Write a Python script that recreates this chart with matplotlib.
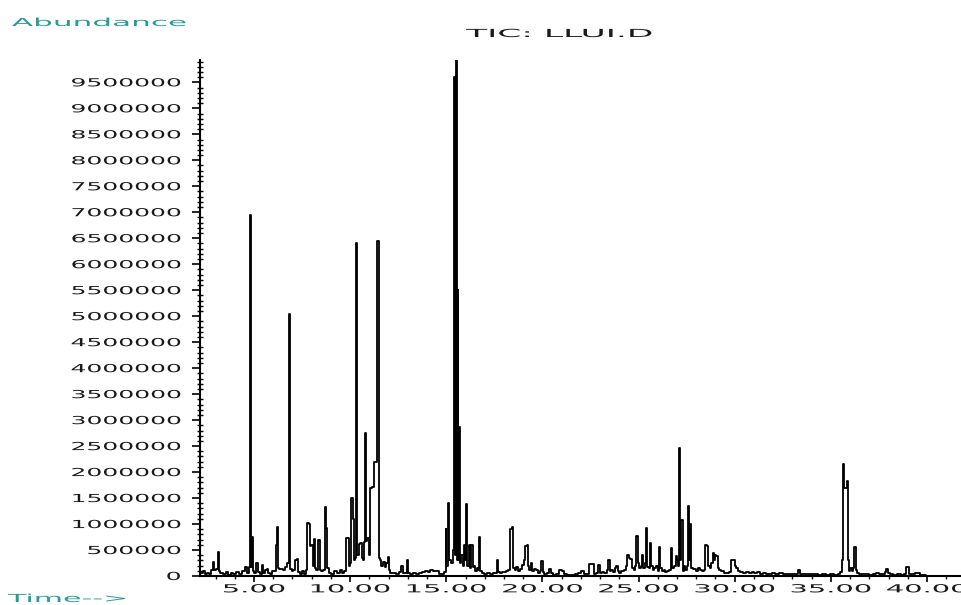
import matplotlib

matplotlib.use("Agg")
import matplotlib.pyplot as plt
from matplotlib import patheffects
from matplotlib.ticker import FuncFormatter
from matplotlib.transforms import Affine2D

# TIC trace of LLUI.D: retention time (min) and abundance, in three windows
rt_early = [2.19, 2.30, 2.40, 2.48, 2.60, 2.72, 2.82, 2.87, 2.92, 3.08,
            3.13, 3.18, 3.30, 3.45, 3.60, 3.72, 3.85, 4.00, 4.15, 4.30,
            4.45, 4.60, 4.70, 4.76, 4.80, 4.86, 4.90, 4.95, 5.05, 5.15,
            5.22, 5.35, 5.45, 5.52, 5.60, 5.70, 5.80, 5.90, 6.00, 6.12,
            6.17, 6.22, 6.27, 6.35, 6.45, 6.55, 6.65, 6.80, 6.86, 6.92,
            7.00, 7.10, 7.18, 7.25, 7.32, 7.45, 7.55, 7.65, 7.76, 7.80,
            7.90, 7.95, 8.02, 8.08, 8.14, 8.20, 8.28, 8.40, 8.46, 8.55,
            8.66, 8.72, 8.78, 8.84, 8.95, 9.10, 9.25, 9.40, 9.55, 9.65,
            9.76, 9.80, 9.90, 9.96, 10.04, 10.09, 10.16, 10.22, 10.30, 10.35,
            10.41, 10.48, 10.56, 10.62, 10.68, 10.74, 10.80, 10.85, 10.92, 11.00,
            11.08, 11.20, 11.24, 11.38, 11.45, 11.52, 11.58, 11.65, 11.75, 11.85,
            11.92, 11.98]
tic_early = [60000, 50000, 90000, 40000, 50000, 30000, 110000, 270000, 120000, 140000,
             470000, 100000, 60000, 30000, 70000, 20000, 60000, 30000, 80000, 40000,
             90000, 170000, 60000, 180000, 6950000, 180000, 750000, 100000, 60000, 250000,
             70000, 40000, 220000, 60000, 110000, 130000, 60000, 40000, 90000, 100000,
             600000, 950000, 150000, 130000, 140000, 120000, 180000, 250000, 5050000, 140000,
             90000, 120000, 300000, 330000, 80000, 40000, 100000, 40000, 120000, 1020000,
             1010000, 580000, 600000, 200000, 720000, 150000, 110000, 700000, 120000, 100000,
             110000, 1320000, 920000, 150000, 60000, 40000, 100000, 50000, 110000, 60000,
             90000, 740000, 730000, 200000, 250000, 1500000, 1100000, 300000, 350000, 6400000,
             400000, 620000, 630000, 350000, 300000, 650000, 2750000, 680000, 730000, 400000,
             1700000, 1720000, 2200000, 2200000, 6450000, 350000, 300000, 200000, 260000, 180000,
             250000, 360000]

rt_mid = [12.04, 12.15, 12.30, 12.45, 12.60, 12.70, 12.76, 12.90, 12.98, 13.04,
          13.20, 13.35, 13.50, 13.65, 13.80, 13.95, 14.10, 14.25, 14.40, 14.55,
          14.70, 14.85, 14.94, 14.98, 15.04, 15.09, 15.16, 15.30, 15.36, 15.42,
          15.47, 15.52, 15.57, 15.60, 15.65, 15.70, 15.76, 15.82, 15.88, 15.94,
          16.00, 16.06, 16.12, 16.20, 16.26, 16.33, 16.40, 16.48, 16.55, 16.62,
          16.70, 16.75, 16.80, 16.90, 17.05, 17.20, 17.35, 17.50, 17.62, 17.68,
          17.74, 17.85, 17.95, 18.05, 18.15, 18.30, 18.36, 18.46, 18.52, 18.60,
          18.70, 18.78, 18.90, 19.00, 19.08, 19.14, 19.22, 19.28, 19.36, 19.44,
          19.50, 19.60, 19.70, 19.80, 19.92, 19.98, 20.04, 20.15, 20.30, 20.42,
          20.50, 20.62, 20.80, 20.95, 21.05, 21.20, 21.40, 21.60, 21.80, 21.95,
          22.10, 22.22, 22.40, 22.48, 22.62, 22.70, 22.85, 22.98, 23.05, 23.15,
          23.30, 23.40, 23.46, 23.52, 23.60, 23.70, 23.80, 23.88, 23.96]
tic_mid = [120000, 60000, 50000, 40000, 70000, 200000, 50000, 60000, 300000, 60000,
           40000, 50000, 30000, 60000, 70000, 100000, 80000, 110000, 100000, 90000,
           40000, 30000, 80000, 900000, 200000, 1400000, 300000, 250000, 500000, 9600000,
           400000, 9940000, 300000, 5500000, 300000, 2870000, 250000, 400000, 200000, 600000,
           300000, 1380000, 200000, 600000, 150000, 600000, 180000, 200000, 100000, 160000,
           120000, 760000, 100000, 60000, 40000, 50000, 30000, 50000, 60000, 300000,
           80000, 60000, 80000, 70000, 100000, 120000, 900000, 950000, 150000, 120000,
           180000, 100000, 130000, 220000, 300000, 570000, 600000, 200000, 120000, 250000,
           100000, 130000, 110000, 60000, 90000, 280000, 80000, 40000, 60000, 130000,
           50000, 20000, 30000, 120000, 100000, 40000, 20000, 20000, 30000, 60000,
           90000, 40000, 40000, 230000, 230000, 40000, 60000, 210000, 50000, 80000,
           60000, 120000, 300000, 100000, 120000, 80000, 150000, 200000, 90000]

rt_late = [24.05, 24.15, 24.30, 24.38, 24.45, 24.52, 24.62, 24.70, 24.78, 24.86,
           24.92, 24.98, 25.05, 25.16, 25.22, 25.28, 25.35, 25.42, 25.48, 25.56,
           25.64, 25.70, 25.78, 25.86, 25.95, 26.02, 26.10, 26.16, 26.25, 26.35,
           26.45, 26.55, 26.65, 26.72, 26.78, 26.90, 26.96, 27.02, 27.08, 27.14,
           27.20, 27.26, 27.32, 27.40, 27.48, 27.55, 27.61, 27.67, 27.72, 27.78,
           27.86, 27.95, 28.05, 28.15, 28.25, 28.35, 28.45, 28.50, 28.60, 28.66,
           28.74, 28.82, 28.88, 28.95, 29.00, 29.10, 29.16, 29.25, 29.35, 29.50,
           29.65, 29.78, 29.84, 29.96, 30.02, 30.10, 30.20, 30.35, 30.50, 30.65,
           30.80, 30.95, 31.10, 31.25, 31.40, 31.55, 31.70, 31.85, 32.00, 32.20,
           32.40, 32.60, 32.80, 33.00, 33.20, 33.35, 33.45, 33.65, 33.85, 34.05,
           34.25, 34.45, 34.65, 34.85, 35.05, 35.25, 35.45, 35.55, 35.62, 35.68,
           35.74, 35.80, 35.86, 35.92, 35.98, 36.05, 36.12, 36.20, 36.26, 36.32,
           36.40, 36.55, 36.70, 36.90, 37.10, 37.30, 37.45, 37.55, 37.75, 37.85,
           37.92, 38.00, 38.15, 38.35, 38.55, 38.75, 38.90, 38.96, 39.04, 39.10,
           39.30, 39.45, 39.55, 39.70, 39.85, 40.00]
tic_late = [60000, 100000, 120000, 200000, 400000, 350000, 330000, 150000, 120000, 200000,
            770000, 250000, 150000, 200000, 400000, 150000, 250000, 920000, 180000, 150000,
            630000, 200000, 120000, 150000, 200000, 100000, 560000, 150000, 100000, 120000,
            80000, 100000, 120000, 530000, 150000, 200000, 380000, 300000, 200000, 2460000,
            300000, 1080000, 100000, 200000, 120000, 200000, 1350000, 300000, 1000000, 150000,
            130000, 140000, 100000, 150000, 120000, 100000, 120000, 600000, 580000, 200000,
            150000, 250000, 450000, 300000, 400000, 390000, 150000, 120000, 90000, 60000,
            50000, 80000, 310000, 300000, 200000, 150000, 90000, 80000, 60000, 80000,
            50000, 70000, 60000, 80000, 40000, 60000, 40000, 30000, 50000, 40000,
            50000, 30000, 40000, 30000, 30000, 110000, 30000, 30000, 40000, 30000,
            40000, 20000, 30000, 20000, 30000, 20000, 40000, 80000, 300000, 2150000,
            1700000, 1700000, 1820000, 300000, 100000, 150000, 100000, 160000, 560000, 120000,
            60000, 40000, 30000, 40000, 20000, 40000, 60000, 30000, 40000, 80000,
            130000, 50000, 30000, 20000, 30000, 20000, 40000, 180000, 170000, 40000,
            30000, 60000, 50000, 20000, 10000, 0]

abund_ticks = list(range(0, 9500001, 500000))
time_ticks = [5, 10, 15, 20, 25, 30, 35, 40]

TEAL = "#2a9a9a"
INK = "#1a1a1a"


class Widen(patheffects.AbstractPathEffect):
    """Stretch text sideways, like the wide plotter font of the MSD report."""

    def __init__(self, sx, anchor="center"):
        super().__init__()
        self.sx = sx
        self.anchor = anchor

    def draw_path(self, renderer, gc, tpath, affine, rgbFace=None):
        box = affine.transform_path(tpath).get_extents()
        if self.anchor == "left":
            px = box.x0
        elif self.anchor == "right":
            px = box.x1
        else:
            px = 0.5 * (box.x0 + box.x1)
        widen = Affine2D().translate(-px, 0).scale(self.sx, 1).translate(px, 0)
        renderer.draw_path(gc, tpath, affine + widen, rgbFace)


rt = rt_early + rt_mid + rt_late
tic = tic_early + tic_mid + tic_late
assert len(rt) == len(tic)

W, H = 961, 605
fig = plt.figure(figsize=(W / 100, H / 100), dpi=100)
ax = fig.add_axes([200 / W, 29 / H, 761 / W, 516 / H])

# step drawing gives the blocky column look of the instrument plot
ax.plot(rt, tic, color="black", lw=1.3, drawstyle="steps-mid")

ax.set_xlim(2.19, 41.77)
ax.set_ylim(0, 9930000)
for side in ("top", "right"):
    ax.spines[side].set_visible(False)
for side in ("left", "bottom"):
    ax.spines[side].set_linewidth(1.5)

ax.set_yticks(abund_ticks)
ax.set_yticks(range(0, 9900001, 100000), minor=True)
ax.set_xticks(time_ticks)
ax.set_xticks(range(3, 42), minor=True)
ax.yaxis.set_major_formatter(FuncFormatter(lambda v, _: f"{v:.0f}"))
ax.xaxis.set_major_formatter(FuncFormatter(lambda v, _: f"{v:.2f}"))

ax.tick_params(axis="y", which="major", direction="out", length=6, width=1.2,
               pad=8, labelsize=8, labelcolor=INK)
ax.tick_params(axis="y", which="minor", direction="inout", length=4, width=1)
ax.tick_params(axis="x", which="major", direction="out", length=4, width=1.2,
               pad=2, labelsize=8, labelcolor=INK)
ax.tick_params(axis="x", which="minor", direction="out", length=2, width=1)

for lab in ax.get_yticklabels():
    lab.set_path_effects([Widen(2.25, "right")])
for lab in ax.get_xticklabels():
    lab.set_path_effects([Widen(2.6, "center")])

fig.text(12 / W, 1 - 26 / H, "Abundance", color=TEAL, fontsize=8,
         ha="left", va="baseline", path_effects=[Widen(2.8, "left")])
fig.text(559 / W, 1 - 37 / H, "TIC: LLUI.D", color=INK, fontsize=8,
         ha="center", va="baseline", path_effects=[Widen(3.1, "center")])
fig.text(8 / W, 1 - 602 / H, "Time-->", color=TEAL, fontsize=8,
         ha="left", va="baseline", path_effects=[Widen(2.7, "left")])

fig.savefig("out.png", dpi=100)
